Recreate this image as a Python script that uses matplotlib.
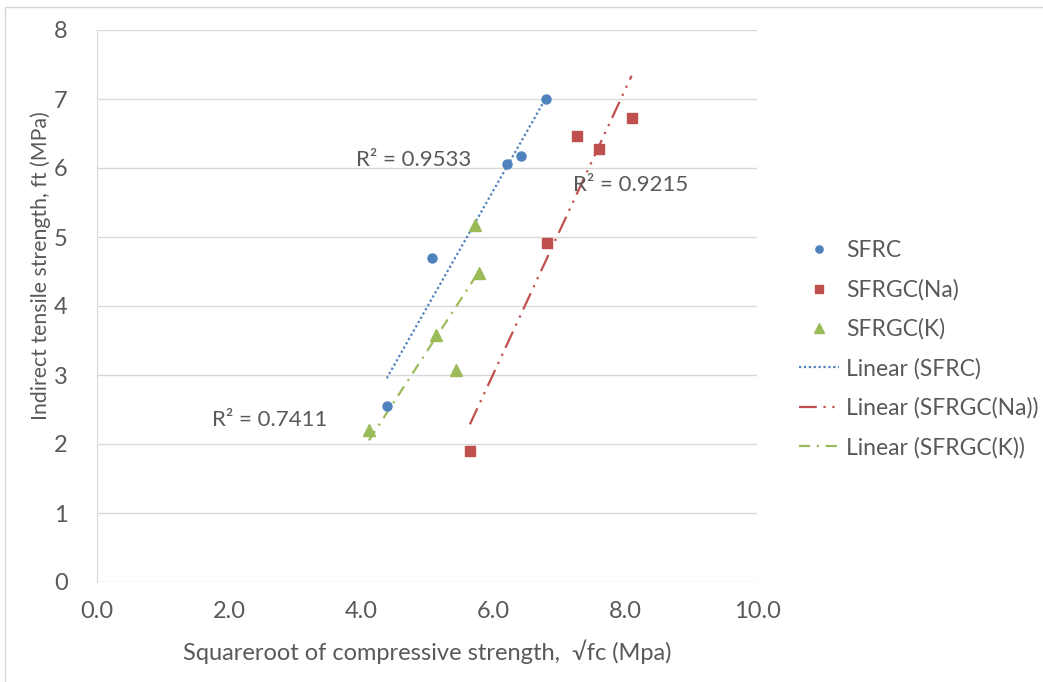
import numpy as np
import matplotlib
matplotlib.use("Agg")
import matplotlib.pyplot as plt
from matplotlib.lines import Line2D
from matplotlib.patches import Rectangle

plt.rcParams['font.family'] = ['Lato', 'DejaVu Sans']

# Measured data: square root of compressive strength vs indirect tensile strength
sfrc_x = [4.39, 5.07, 6.21, 6.42, 6.81]
sfrc_y = [2.55, 4.69, 6.06, 6.17, 7.00]

na_x = [5.65, 6.82, 7.27, 7.61, 8.10]
na_y = [1.90, 4.91, 6.46, 6.28, 6.72]

k_x = [4.12, 5.13, 5.44, 5.73, 5.79]
k_y = [2.20, 3.58, 3.07, 5.17, 4.48]

r2_labels = ["R² = 0.9533", "R² = 0.9215", "R² = 0.7411"]

TXT = '#595959'
C_BLUE = '#4F81BD'
C_RED = '#C0504D'
C_GREEN = '#9BBB59'
FS = 16

fig = plt.figure(figsize=(10.43, 6.82), dpi=100)
fig.patch.set_facecolor('white')
fig.patches.append(Rectangle((5 / 1043, -0.05), 1.1, (1 - 7 / 682) + 0.05,
                             transform=fig.transFigure, fill=False,
                             edgecolor='#d9d9d9', linewidth=1.0))

ax = fig.add_axes([97 / 1043, 1 - 582 / 682, 660 / 1043, 552 / 682])
ax.set_xlim(0, 10)
ax.set_ylim(0, 8)
ax.set_xticks(np.arange(0, 10.1, 2))
ax.set_xticklabels([f"{v:.1f}" for v in np.arange(0, 10.1, 2)])
ax.set_yticks(range(0, 9))
ax.tick_params(axis='x', length=0, labelsize=17, colors=TXT, pad=14)
ax.tick_params(axis='y', length=0, labelsize=17, colors=TXT, pad=21)
ax.grid(axis='y', color='#d9d9d9', linewidth=1.0)
ax.set_axisbelow(True)
for s in ['top', 'right', 'bottom']:
    ax.spines[s].set_visible(False)
ax.spines['left'].set_color('#d9d9d9')

ax.set_xlabel("Squareroot of compressive strength,  √fc (Mpa)",
              fontsize=17, color=TXT, labelpad=12)
ax.set_ylabel("Indirect tensile strength, ft (MPa)",
              fontsize=15.3, color=TXT, labelpad=12)
ax.yaxis.set_label_coords(-0.07, 0.574)

series = [
    (sfrc_x, sfrc_y, C_BLUE, 'o', 6.5, (0, (1, 1.2)), 'SFRC'),
    (na_x, na_y, C_RED, 's', 7, (0, (8, 3, 1, 3, 1, 3)), 'SFRGC(Na)'),
    (k_x, k_y, C_GREEN, '^', 9, (0, (5, 3, 1, 3)), 'SFRGC(K)'),
]

for x, y, c, m, ms, ls, name in series:
    ax.plot(x, y, linestyle='none', marker=m, markersize=ms, color=c, zorder=4)
    slope, icpt = np.polyfit(x, y, 1)
    xs = np.array([min(x), max(x)])
    ax.plot(xs, slope * xs + icpt, color=c, linestyle=ls, linewidth=1.6, zorder=3)

ax.text(4.79, 6.12, r2_labels[0], fontsize=FS, color=TXT, ha='center', va='center')
ax.text(8.09, 5.75, r2_labels[1], fontsize=FS, color=TXT, ha='center', va='center')
ax.text(2.62, 2.35, r2_labels[2], fontsize=FS, color=TXT, ha='center', va='center')

handles = []
for x, y, c, m, ms, ls, name in series:
    handles.append(Line2D([], [], linestyle='none', marker=m,
                          markersize=ms * 0.8, color=c, label=name))
for x, y, c, m, ms, ls, name in series:
    handles.append(Line2D([], [], color=c, linestyle=ls, linewidth=1.6,
                          label=f"Linear ({name})"))

leg = fig.legend(handles=handles, loc='upper left',
                 bbox_to_anchor=(790 / 1043, 1 - 231 / 682),
                 frameon=False, fontsize=16.5, labelcolor=TXT,
                 handlelength=1.75, handletextpad=0.3, labelspacing=0.78,
                 borderaxespad=0)

fig.savefig("out.png", dpi=100, facecolor='white')
